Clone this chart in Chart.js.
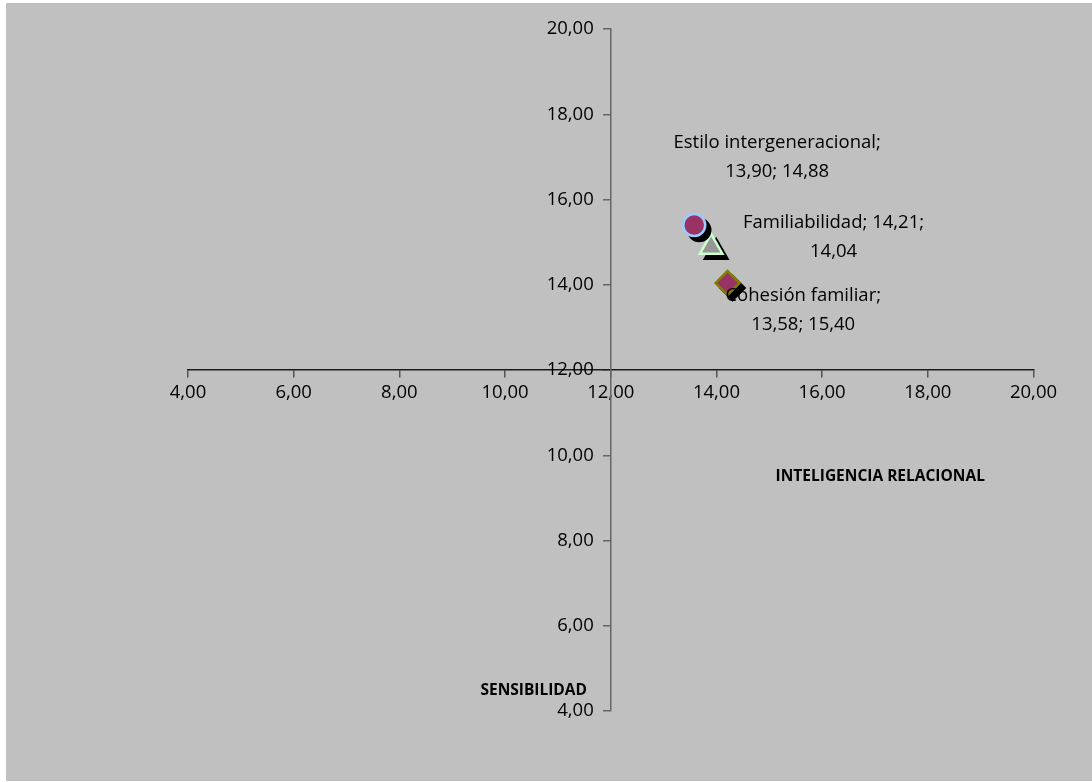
<!DOCTYPE html>
<html>
<head>
<meta charset="utf-8">
<script src="https://cdn.jsdelivr.net/npm/chart.js@4/dist/chart.umd.min.js"></script>
<style>
  html, body { margin: 0; padding: 0; background: #ffffff; }
  #wrap { width: 1092px; height: 782px; position: relative; }
</style>
</head>
<body>
<div id="wrap"><canvas id="c" width="1092" height="782"></canvas></div>
<script>
// Dimensions of family life: relational intelligence (x) vs. sensitivity (y)
const seriesNames = ['Cohesión familiar', 'Estilo intergeneracional', 'Familiabilidad'];
const inteligenciaRelacional = [13.58, 13.90, 14.21];
const sensibilidad = [15.40, 14.88, 14.04];
const xTickValues = [4, 6, 8, 10, 12, 14, 16, 18, 20];
const yTickValues = [4, 6, 8, 10, 12, 14, 16, 18, 20];
const xAxisTitle = 'INTELIGENCIA RELACIONAL';
const yAxisTitle = 'SENSIBILIDAD';

// Marker appearance per series
const markerStyles = [
  { pointStyle: 'circle',   radius: 11, fill: '#993366', stroke: '#99ccff' },
  { pointStyle: 'triangle', radius: 13, fill: '#969696', stroke: '#ccffcc' },
  { pointStyle: 'rectRot',  radius: 12, fill: '#993366', stroke: '#808000' }
];
// Data-label placement (pixel offset of first line centre from the marker) and wrap width
const labelLayout = [
  { dx: 109, dy: 71,   wrap: 205 },
  { dx: 66,  dy: -105, wrap: 230 },
  { dx: 106, dy: -60,  wrap: 205 }
];

const FONT = '"Open Sans", "DejaVu Sans", sans-serif';
const TICK_FONT_SIZE = 18.5;
const fmt = v => Number(v).toFixed(2).replace('.', ',');

const datasets = seriesNames.map((name, i) => ({
  label: name,
  data: [{ x: inteligenciaRelacional[i], y: sensibilidad[i] }],
  pointStyle: markerStyles[i].pointStyle,
  pointRadius: markerStyles[i].radius,
  pointBackgroundColor: markerStyles[i].fill,
  pointBorderColor: markerStyles[i].stroke,
  pointBorderWidth: 2.5,
  showLine: false
}));

const backgroundPlugin = {
  id: 'panelBackground',
  beforeDraw(chart) {
    const ctx = chart.ctx;
    ctx.save();
    ctx.fillStyle = '#ffffff';
    ctx.fillRect(0, 0, chart.width, chart.height);
    ctx.fillStyle = '#c0c0c0';
    ctx.fillRect(6, 3, chart.width - 6, chart.height - 4);
    ctx.restore();
  }
};

// Hard black drop shadow behind each marker, drawn as an offset copy of its shape
const shadowPlugin = {
  id: 'markerShadow',
  beforeDatasetDraw(chart, args) {
    const ctx = chart.ctx;
    args.meta.data.forEach(el => {
      const o = el.options;
      ctx.save();
      ctx.fillStyle = '#000000';
      ctx.strokeStyle = '#000000';
      ctx.lineWidth = o.borderWidth;
      Chart.helpers.drawPoint(ctx, {
        pointStyle: o.pointStyle, radius: o.radius, rotation: o.rotation || 0, borderWidth: o.borderWidth
      }, el.x + 5, el.y + 5);
      ctx.restore();
    });
  }
};

function wrapText(ctx, text, maxWidth) {
  const words = text.split(' ');
  const lines = [];
  let line = '';
  words.forEach(w => {
    const test = line ? line + ' ' + w : w;
    if (line && ctx.measureText(test).width > maxWidth) {
      lines.push(line);
      line = w;
    } else {
      line = test;
    }
  });
  if (line) lines.push(line);
  return lines;
}

const dataLabelPlugin = {
  id: 'pointLabels',
  afterDatasetsDraw(chart) {
    const ctx = chart.ctx;
    ctx.save();
    ctx.font = '18.5px ' + FONT;
    ctx.fillStyle = '#000000';
    ctx.textAlign = 'center';
    ctx.textBaseline = 'middle';
    chart.data.datasets.forEach((ds, i) => {
      const pt = chart.getDatasetMeta(i).data[0];
      const d = ds.data[0];
      const text = ds.label + '; ' + fmt(d.x) + '; ' + fmt(d.y);
      const lines = wrapText(ctx, text, labelLayout[i].wrap);
      lines.forEach((ln, k) => {
        ctx.fillText(ln, pt.x + labelLayout[i].dx, pt.y + labelLayout[i].dy + k * 29);
      });
    });
    ctx.restore();
  }
};

// Vertical-axis tick labels, right-aligned to the left of the tick marks
const yLabelPlugin = {
  id: 'yTickLabels',
  afterDraw(chart) {
    const ctx = chart.ctx;
    const xs = chart.scales.x, ys = chart.scales.y;
    const axisX = xs.getPixelForValue(12);
    ctx.save();
    ctx.font = TICK_FONT_SIZE + 'px ' + FONT;
    ctx.fillStyle = '#000000';
    ctx.textAlign = 'right';
    ctx.textBaseline = 'middle';
    ys.ticks.forEach(t => {
      ctx.fillText(fmt(t.value), axisX - 17, ys.getPixelForValue(t.value));
    });
    ctx.restore();
  }
};

const axisTitlePlugin = {
  id: 'axisTitles',
  afterDraw(chart) {
    const ctx = chart.ctx;
    const xs = chart.scales.x, ys = chart.scales.y;
    ctx.save();
    ctx.font = 'bold 15.5px ' + FONT;
    ctx.fillStyle = '#000000';
    ctx.textBaseline = 'middle';
    ctx.textAlign = 'center';
    ctx.fillText(xAxisTitle, xs.getPixelForValue(17.1), ys.getPixelForValue(9.5));
    ctx.textAlign = 'right';
    ctx.fillText(yAxisTitle, xs.getPixelForValue(11.55), ys.getPixelForValue(4.48));
    ctx.restore();
  }
};

new Chart(document.getElementById('c'), {
  type: 'scatter',
  data: { datasets },
  plugins: [backgroundPlugin, shadowPlugin, dataLabelPlugin, yLabelPlugin, axisTitlePlugin],
  options: {
    responsive: false,
    animation: false,
    layout: { padding: { left: 188, right: 58.5, top: 29, bottom: 71 } },
    plugins: { legend: { display: false }, tooltip: { enabled: false } },
    scales: {
      x: {
        type: 'linear',
        min: 4, max: 20,
        position: { y: 12 },
        afterBuildTicks: s => { s.ticks = xTickValues.map(v => ({ value: v })); },
        ticks: { callback: v => fmt(v), color: '#000000', font: { family: FONT, size: TICK_FONT_SIZE }, padding: 5, maxRotation: 0, autoSkip: false },
        grid: { drawOnChartArea: false, drawTicks: true, tickLength: 7, color: '#555555', lineWidth: 1.5 },
        border: { color: '#1a1a1a', width: 1.5 }
      },
      y: {
        type: 'linear',
        min: 4, max: 20,
        position: { x: 12 },
        afterBuildTicks: s => { s.ticks = yTickValues.map(v => ({ value: v })); },
        ticks: { display: false },
        grid: { drawOnChartArea: false, drawTicks: true, tickLength: 7, color: '#666666', lineWidth: 1.5 },
        border: { color: '#666666', width: 1.5 }
      }
    }
  }
});
</script>
</body>
</html>
